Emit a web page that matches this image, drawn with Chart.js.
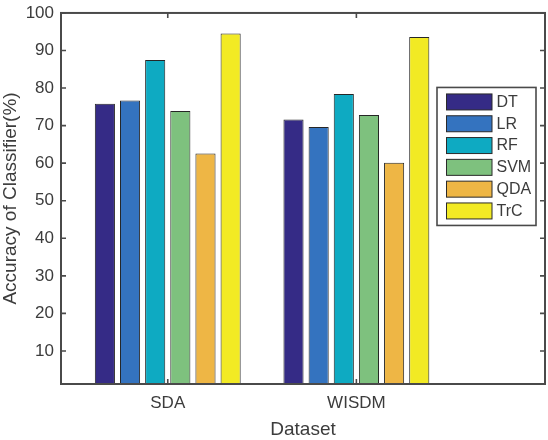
<!DOCTYPE html>
<html>
<head>
    <title>Accuracy of Classifier</title>
    <script src="https://cdn.jsdelivr.net/npm/chart.js"></script>
    <style>
        body { margin: 0; background: #fff; }
    </style>
</head>
<body>
    <canvas id="accChart" width="548" height="440"></canvas>
    <script>
        // groups on the x axis and the classifiers drawn in each group
        const datasetNames = ['SDA', 'WISDM'];
        const classifiers = ['DT', 'LR', 'RF', 'SVM', 'QDA', 'TrC'];

        // accuracy (%) per classifier, one value per dataset (SDA, WISDM)
        const accDT  = [75.8, 71.6];
        const accLR  = [76.7, 69.6];
        const accRF  = [87.5, 78.4];
        const accSVM = [73.9, 72.8];
        const accQDA = [62.6, 60.1];
        const accTrC = [94.5, 93.6];

        const yTicks = [10, 20, 30, 40, 50, 60, 70, 80, 90, 100];

        const barColors = ['#352b86', '#3473bf', '#0eaac2', '#7ec17e', '#eeb645', '#f2ea24'];
        const series = [accDT, accLR, accRF, accSVM, accQDA, accTrC];

        const textColor = '#3c3c3c';
        const axisColor = '#4a4a4a';
        const fontFamily = '"Liberation Sans", Arial, Helvetica, sans-serif';

        // box round the plot with MATLAB style inward ticks on all sides
        const boxPlugin = {
            id: 'box',
            afterDraw(chart) {
                const ctx = chart.ctx;
                const a = chart.chartArea;
                const x = chart.scales.x, y = chart.scales.y;
                const len = 5;
                ctx.save();
                ctx.strokeStyle = axisColor;
                ctx.lineWidth = 1.6;
                ctx.beginPath();
                yTicks.forEach(v => {
                    const py = y.getPixelForValue(v);
                    ctx.moveTo(a.left, py); ctx.lineTo(a.left + len, py);
                    ctx.moveTo(a.right, py); ctx.lineTo(a.right - len, py);
                });
                datasetNames.forEach((_, i) => {
                    const px = x.getPixelForValue(i + 1);
                    ctx.moveTo(px, a.bottom); ctx.lineTo(px, a.bottom - len);
                    ctx.moveTo(px, a.top); ctx.lineTo(px, a.top + len);
                });
                ctx.stroke();
                ctx.lineWidth = 2;
                ctx.strokeRect(a.left, a.top, a.right - a.left, a.bottom - a.top);
                ctx.restore();
            }
        };

        // legend box inside the plot, upper right
        const legendPlugin = {
            id: 'boxLegend',
            afterDraw(chart) {
                const ctx = chart.ctx;
                const a = chart.chartArea;
                const w = 99, h = 138;
                const left = a.right - 9 - w;
                const top = a.top + 74.5;
                ctx.save();
                ctx.fillStyle = '#fff';
                ctx.fillRect(left, top, w, h);
                ctx.strokeStyle = axisColor;
                ctx.lineWidth = 1.6;
                ctx.strokeRect(left, top, w, h);
                ctx.font = '16px ' + fontFamily;
                ctx.textBaseline = 'middle';
                ctx.textAlign = 'left';
                chart.data.datasets.forEach((ds, i) => {
                    const py = top + 6.5 + i * 21.8;
                    ctx.fillStyle = ds.backgroundColor;
                    ctx.fillRect(left + 9.5, py, 45.5, 16);
                    ctx.strokeStyle = '#2a2a2a';
                    ctx.lineWidth = 1;
                    ctx.strokeRect(left + 9.5, py, 45.5, 16);
                    ctx.fillStyle = textColor;
                    ctx.fillText(ds.label, left + 59.5, py + 8.5);
                });
                ctx.restore();
            }
        };

        const ctx = document.getElementById('accChart').getContext('2d');
        const chart = new Chart(ctx, {
            type: 'bar',
            data: {
                datasets: classifiers.map((name, k) => ({
                    label: name,
                    data: series[k].map((v, i) => ({ x: i + 1, y: v })),
                    backgroundColor: barColors[k],
                    borderColor: '#262626',
                    borderWidth: 1,
                    borderSkipped: false,
                    clip: 0
                }))
            },
            options: {
                responsive: false,
                animation: false,
                devicePixelRatio: 1,
                layout: { padding: { top: 6.5, right: 3, left: 0, bottom: 0 } },
                categoryPercentage: 0.8,
                barPercentage: 0.8,
                plugins: {
                    legend: { display: false },
                    tooltip: { enabled: false }
                },
                scales: {
                    x: {
                        type: 'linear',
                        min: 0.434,
                        max: 3.0,
                        offset: false,
                        grid: { display: false, drawTicks: false },
                        border: { display: false },
                        afterBuildTicks: s => { s.ticks = datasetNames.map((_, i) => ({ value: i + 1 })); },
                        afterFit: s => { s.height = 56; },
                        ticks: {
                            padding: 9,
                            color: textColor,
                            font: { family: fontFamily, size: 17 },
                            maxRotation: 0,
                            autoSkip: false,
                            callback: v => datasetNames[v - 1] || ''
                        },
                        title: {
                            display: true,
                            text: 'Dataset',
                            color: textColor,
                            padding: 0,
                            font: { family: fontFamily, size: 19, lineHeight: 1.05 }
                        }
                    },
                    y: {
                        min: 1.2,
                        max: 100,
                        grid: { display: false, drawTicks: false },
                        border: { display: false },
                        afterBuildTicks: s => { s.ticks = yTicks.map(v => ({ value: v })); },
                        afterFit: s => { s.width = 61; },
                        ticks: {
                            padding: 7,
                            color: textColor,
                            font: { family: fontFamily, size: 17, lineHeight: 0.7 }
                        },
                        title: {
                            display: true,
                            text: 'Accuracy of Classifier(%)',
                            color: textColor,
                            padding: 0,
                            font: { family: fontFamily, size: 19, lineHeight: 1.15 }
                        }
                    }
                }
            },
            plugins: [boxPlugin, legendPlugin]
        });
    </script>
</body>
</html>
